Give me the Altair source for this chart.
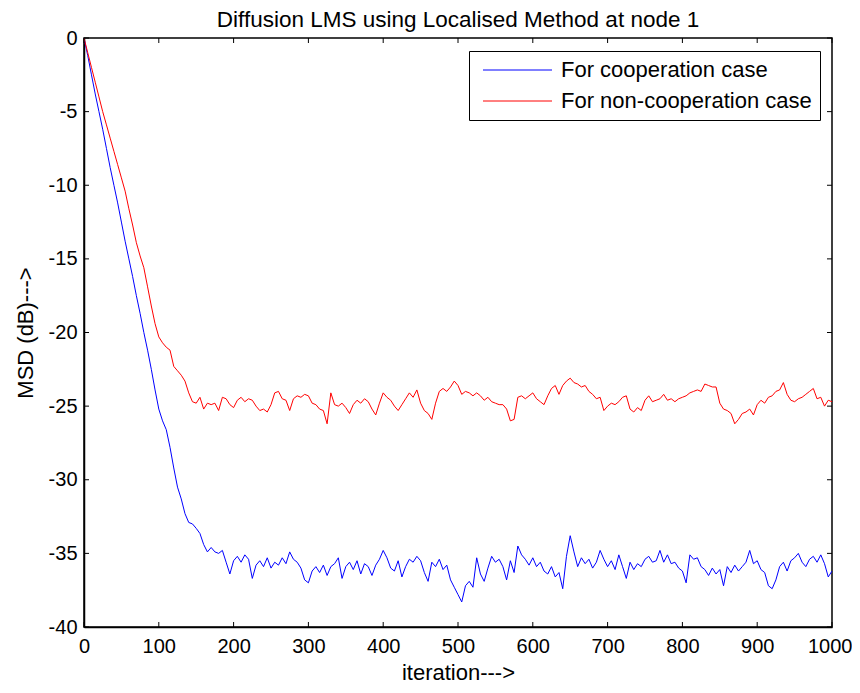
import altair as alt
import pandas as pd

iterations = list(range(0, 1001, 5))

coop = [
    0.0, -1.2, -2.5, -3.8, -5.0, -6.2, -7.5, -8.8, -10.0, -11.2,
    -12.5, -13.8, -15.0, -16.2, -17.5, -18.7, -20.0, -21.2, -22.5, -23.9,
    -25.2, -26.0, -26.6, -27.8, -29.2, -30.5, -31.3, -32.3, -32.9, -33.0,
    -33.3, -33.65, -34.4, -34.9, -34.6, -34.9, -35.0, -34.8, -35.6, -36.4,
    -35.5, -35.2, -35.6, -35.1, -35.4, -36.7, -35.8, -35.5, -35.9, -35.3,
    -36.0, -35.6, -35.8, -35.3, -35.7, -34.9, -35.4, -35.6, -36.0, -36.8,
    -37.0, -36.2, -35.9, -36.3, -35.8, -36.5, -35.9, -35.7, -35.3, -36.7,
    -35.9, -35.6, -36.1, -35.5, -36.4, -35.7, -35.9, -36.5, -35.8, -35.4,
    -34.8, -35.3, -36.0, -36.2, -35.5, -36.6, -35.9, -35.4, -35.6, -35.2,
    -35.5, -36.3, -36.9, -35.6, -35.9, -35.4, -36.1, -35.8, -36.8, -37.3,
    -37.8, -38.3, -37.2, -36.9, -37.3, -35.3, -36.4, -36.9, -36.0, -35.2,
    -35.6, -35.4, -35.9, -36.8, -35.5, -36.3, -34.5, -35.1, -35.4, -35.8,
    -35.3, -35.9, -35.6, -36.2, -36.4, -35.9, -36.6, -36.3, -37.4, -35.2,
    -33.8, -34.9, -35.9, -35.3, -35.7, -35.4, -36.0, -35.6, -34.8, -35.4,
    -35.9, -35.5, -36.1, -35.1, -35.9, -36.7, -35.6, -36.1, -35.7, -35.9,
    -35.4, -35.2, -35.6, -35.5, -34.8, -35.6, -35.1, -35.7, -35.6, -36.0,
    -36.2, -37.0, -35.1, -35.4, -35.3, -35.9, -36.1, -36.5, -36.0, -36.4,
    -36.1, -37.2, -35.9, -36.3, -35.8, -36.2, -35.9, -35.6, -34.8, -35.7,
    -35.5, -36.1, -36.3, -37.2, -37.4, -36.8, -35.9, -35.6, -36.2, -35.5,
    -35.3, -35.0, -35.6, -35.9, -35.4, -35.2, -35.6, -35.1, -35.7, -36.6,
    -36.2,
]

noncoop = [
    0.0, -1.0, -2.0, -3.0, -4.0, -5.0, -5.9, -6.8, -7.7, -8.6,
    -9.5, -10.4, -11.6, -12.7, -13.9, -14.8, -15.6, -16.9, -18.2, -19.4,
    -20.3, -20.7, -21.0, -21.2, -22.3, -22.6, -22.9, -23.3, -24.1, -24.7,
    -24.8, -24.4, -25.2, -24.8, -24.9, -24.8, -25.3, -24.4, -24.5, -24.9,
    -25.1, -24.6, -24.4, -24.7, -24.5, -24.6, -25.0, -25.3, -25.2, -25.4,
    -24.9, -24.1, -24.0, -24.5, -24.6, -25.3, -24.5, -24.3, -24.4, -24.2,
    -24.3, -24.8, -24.9, -25.2, -25.3, -26.2, -24.1, -24.9, -25.0, -24.8,
    -25.1, -25.5, -24.9, -24.6, -24.8, -24.5, -24.7, -25.2, -25.6, -24.8,
    -24.1, -24.4, -24.6, -25.0, -25.3, -24.9, -24.5, -24.1, -24.4, -23.9,
    -24.8, -25.3, -25.5, -25.9, -24.8, -24.0, -23.8, -24.0, -23.7, -23.3,
    -23.6, -24.2, -24.0, -24.1, -24.3, -24.1, -24.3, -24.6, -24.4, -24.7,
    -24.8, -24.9, -24.9, -25.2, -26.0, -25.9, -24.4, -24.3, -24.5, -24.3,
    -24.1, -24.5, -24.7, -24.9, -24.3, -23.8, -23.6, -24.2, -23.6, -23.3,
    -23.1, -23.4, -23.5, -23.7, -23.6, -24.0, -24.2, -24.5, -24.4, -25.3,
    -25.0, -24.8, -24.9, -24.7, -24.4, -24.3, -25.2, -25.4, -25.1, -25.3,
    -24.6, -24.3, -24.7, -24.6, -24.5, -24.2, -24.6, -24.5, -24.7, -24.5,
    -24.4, -24.3, -24.1, -24.0, -23.9, -24.0, -23.5, -23.6, -23.7, -23.7,
    -24.8, -25.2, -25.3, -25.5, -26.2, -25.9, -25.5, -25.4, -25.2, -25.6,
    -24.9, -24.6, -24.8, -24.4, -24.3, -24.0, -23.9, -23.4, -24.2, -24.6,
    -24.7, -24.5, -24.4, -24.2, -24.0, -23.8, -24.5, -24.4, -25.0, -24.6,
    -24.7,
]

series_names = ["For cooperation case", "For non-cooperation case"]
series_colors = ["#0000FF", "#FF0000"]
x_ticks = list(range(0, 1001, 100))
y_ticks = list(range(-40, 1, 5))

W, H = 748, 589
TICK = 5

df = pd.concat([
    pd.DataFrame({"iteration": iterations, "MSD": coop, "series": series_names[0]}),
    pd.DataFrame({"iteration": iterations, "MSD": noncoop, "series": series_names[1]}),
])

xscale = alt.Scale(domain=[0, 1000], nice=False, zero=False)
yscale = alt.Scale(domain=[-40, 0], nice=False, zero=False)

last_x = "datum.value == 1000"
x_axis = alt.Axis(values=x_ticks, grid=False, ticks=False, labelPadding=9,
                  labelExpr="toString(datum.value)", labelFlush=False,
                  labelAlign={"condition": {"test": last_x, "value": "right"}, "value": "center"},
                  labelOffset={"condition": {"test": last_x, "value": 20}, "value": 0},
                  titlePadding=6, domainColor="black", domainWidth=1.5,
                  title="iteration--->")
y_axis = alt.Axis(values=y_ticks, grid=False, ticks=False, labelPadding=7,
                  labelExpr="toString(datum.value)", labelFlush=False,
                  titlePadding=11, domainColor="black", domainWidth=1.5,
                  title="MSD (dB)--->")

lines = alt.Chart(df).mark_line(strokeWidth=1, clip=True).encode(
    x=alt.X("iteration:Q", scale=xscale, axis=x_axis),
    y=alt.Y("MSD:Q", scale=yscale, axis=y_axis),
    color=alt.Color("series:N", scale=alt.Scale(domain=series_names, range=series_colors),
                    legend=alt.Legend(title=None, orient="none", legendX=385, legendY=13,
                                      strokeColor="black", fillColor="white", padding=8,
                                      symbolType="M-3.45,0H3.45", symbolSize=400,
                                      symbolOffset=29.5,
                                      symbolStrokeWidth=1, labelFontSize=22,
                                      labelFont="Liberation Sans", labelOffset=32.5,
                                      labelLimit=0, rowPadding=9, labelColor="black")),
    detail="series:N",
)

xt = pd.DataFrame({"iteration": x_ticks})
yt = pd.DataFrame({"MSD": y_ticks})

xb = alt.Chart(xt).mark_rule(color="black", strokeWidth=1).encode(
    x=alt.X("iteration:Q", scale=xscale, axis=x_axis), y=alt.value(H), y2=alt.value(H - TICK))
xtop = alt.Chart(xt).mark_rule(color="black", strokeWidth=1).encode(
    x=alt.X("iteration:Q", scale=xscale, axis=x_axis), y=alt.value(0), y2=alt.value(TICK))
yl = alt.Chart(yt).mark_rule(color="black", strokeWidth=1).encode(
    y=alt.Y("MSD:Q", scale=yscale, axis=y_axis), x=alt.value(0), x2=alt.value(TICK))
yr = alt.Chart(yt).mark_rule(color="black", strokeWidth=1).encode(
    y=alt.Y("MSD:Q", scale=yscale, axis=y_axis), x=alt.value(W), x2=alt.value(W - TICK))

chart = alt.layer(lines, xb, xtop, yl, yr).properties(
    width=W, height=H,
    title=alt.Title("Diffusion LMS using Localised Method at node 1", fontSize=22.5,
                    font="Liberation Sans", fontWeight="normal", color="black", offset=0,
                    dy=3),
    autosize=alt.AutoSizeParams(type="none"),
    padding={"left": 76, "top": 30, "right": 20, "bottom": 58},
    background="white",
).configure_view(stroke="black", strokeWidth=1.5).configure_axis(
    labelFont="Liberation Sans", titleFont="Liberation Sans", labelFontSize=20,
    titleFontSize=22, titleFontWeight="normal", labelColor="black", titleColor="black",
)

chart.save("out.html", embed_options={"renderer": "svg", "actions": False})
